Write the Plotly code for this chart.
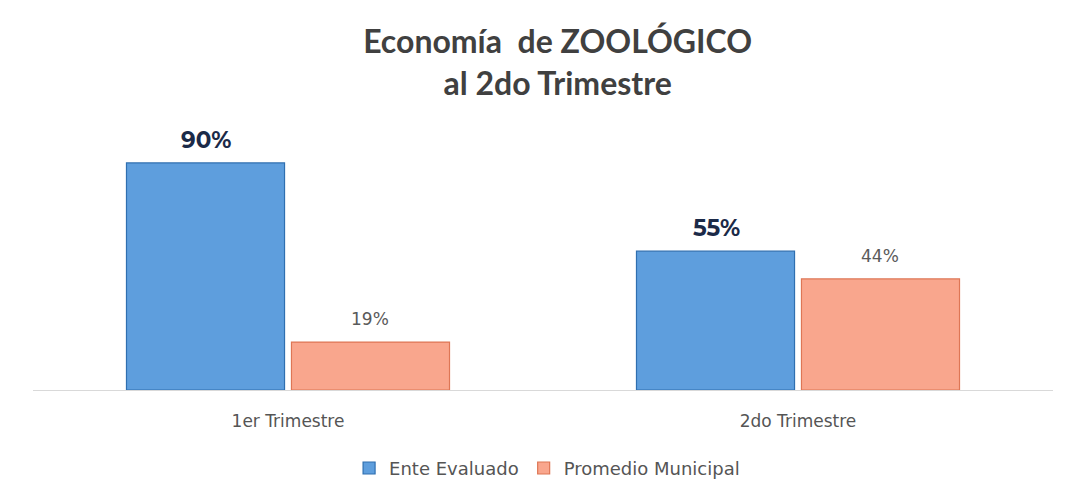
import plotly.graph_objects as go

categories = ["1er Trimestre", "2do Trimestre"]
ente_evaluado = [90, 55]
promedio_municipal = [19, 44]
series_names = ["Ente Evaluado", "Promedio Municipal"]

BLUE_FONT = dict(family="Montserrat, Lato, sans-serif", size=23, color="#1B2A48", weight="bold")
ORANGE_FONT = dict(family="DejaVu Sans, sans-serif", size=17, color="#5A5A5A")

fig = go.Figure()
fig.add_trace(go.Bar(
    x=categories, y=ente_evaluado, name=series_names[0],
    marker=dict(color="#5E9EDD", line=dict(color="#2F6FB0", width=1.2)),
))
fig.add_trace(go.Bar(
    x=categories, y=promedio_municipal, name=series_names[1],
    marker=dict(color="#F9A68D", line=dict(color="#DE7655", width=1.2)),
))

annotations = []
for cat, v in zip(categories, ente_evaluado):
    annotations.append(dict(x=cat, y=v, xref="x", yref="y", text=f"{v}%", showarrow=False,
                            yanchor="bottom", xshift=-82, yshift=7, font=BLUE_FONT))
for cat, v in zip(categories, promedio_municipal):
    annotations.append(dict(x=cat, y=v, xref="x", yref="y", text=f"{v}%", showarrow=False,
                            yanchor="bottom", xshift=82, yshift=11, font=ORANGE_FONT))

fig.update_layout(
    width=1059, height=496,
    paper_bgcolor="#FFFFFF", plot_bgcolor="#FFFFFF",
    margin=dict(l=25, r=14, t=112, b=114),
    barmode="group", bargap=0.353, bargroupgap=0.042,
    title=dict(
        text="Economía  de ZOOLÓGICO<br>al 2do Trimestre",
        x=0.519, xanchor="center", y=0.909, yanchor="top",
        font=dict(family="Lato, sans-serif", size=32, color="#404040", weight="bold"),
    ),
    showlegend=True,
    legend=dict(
        orientation="h", x=0.504, xanchor="center", y=-0.29, yanchor="middle",
        font=dict(family="DejaVu Sans, sans-serif", size=18, color="#555555"),
        itemwidth=30, traceorder="normal",
    ),
    xaxis=dict(
        showline=True, linecolor="#D9D9D9", linewidth=1,
        tickfont=dict(family="DejaVu Sans, sans-serif", size=17, color="#555555"),
        ticks="", showgrid=False, ticklabelstandoff=16,
    ),
    yaxis=dict(range=[0, 107], visible=False, showgrid=False, zeroline=False),
    annotations=annotations,
)

fig.write_html("out.html")
